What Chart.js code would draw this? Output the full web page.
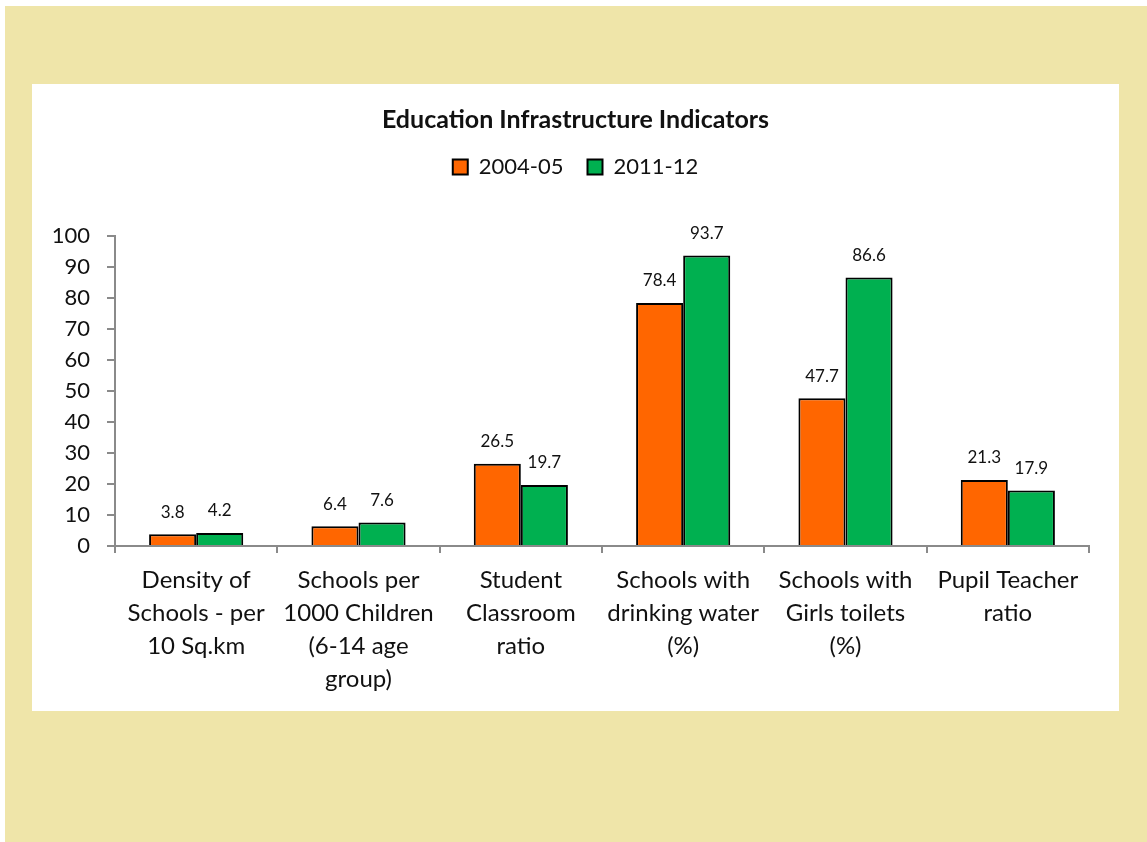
<!DOCTYPE html>
<html>
<head>
<meta charset="utf-8">
<title>Education Infrastructure Indicators</title>
<script src="https://cdn.jsdelivr.net/npm/chart.js@4.4.1/dist/chart.umd.min.js"></script>
<style>
  html, body { margin: 0; padding: 0; background: #fff; width: 1147px; height: 842px; overflow: hidden; }
  #frame { position: absolute; left: 5px; top: 6px; right: 0; bottom: 0; background: #EFE5A9; }
  #panel { position: absolute; left: 32px; top: 84px; width: 1087px; height: 627px; background: #fff; }
  #chart { display: block; }
</style>
</head>
<body>
<div id="frame"></div>
<div id="panel"><canvas id="chart" width="1087" height="627"></canvas></div>
<script>
// education indicators, two survey years
const categories = [
  ["Density of", "Schools - per", "10 Sq.km"],
  ["Schools per", "1000 Children", "(6-14 age", "group)"],
  ["Student", "Classroom", "ratio"],
  ["Schools with", "drinking water", "(%)"],
  ["Schools with", "Girls toilets", "(%)"],
  ["Pupil Teacher", "ratio"]
];
const seriesNames = ["2004-05", "2011-12"];
const values2004 = [3.8, 6.4, 26.5, 78.4, 47.7, 21.3];
const values2011 = [4.2, 7.6, 19.7, 93.7, 86.6, 17.9];
const yTicks = [0, 10, 20, 30, 40, 50, 60, 70, 80, 90, 100];

const FONT = "Lato, 'Open Sans', sans-serif";
const AXIS_GREY = "#8a8a8a";
const TEXT = "#111";

// value labels sitting above each bar
const barValueLabels = {
  id: "barValueLabels",
  afterDatasetsDraw(chart){
    const ctx = chart.ctx;
    ctx.save();
    ctx.font = "17px " + FONT;
    ctx.fillStyle = TEXT;
    ctx.textAlign = "center";
    ctx.textBaseline = "middle";
    chart.data.datasets.forEach((ds, di) => {
      chart.getDatasetMeta(di).data.forEach((bar, i) => {
        ctx.fillText(ds.data[i].toFixed(1), bar.x, bar.y - 22);
      });
    });
    ctx.restore();
  }
};

new Chart(document.getElementById("chart").getContext("2d"), {
  type: "bar",
  data: {
    labels: categories,
    datasets: [
      { label: seriesNames[0], data: values2004, backgroundColor: "#FF6600", borderColor: "#000", borderWidth: 2 },
      { label: seriesNames[1], data: values2011, backgroundColor: "#00B050", borderColor: "#000", borderWidth: 2 }
    ]
  },
  options: {
    responsive: false,
    animation: false,
    layout: { padding: 0 },
    datasets: { bar: { barPercentage: 1, categoryPercentage: 0.58 } },
    plugins: {
      title: {
        display: true,
        text: "Education Infrastructure Indicators",
        color: TEXT,
        font: { family: FONT, size: 25, weight: "bold", lineHeight: 1 },
        padding: { top: 23, bottom: 0 }
      },
      legend: {
        display: true,
        labels: {
          color: TEXT,
          font: { family: FONT, size: 22 },
          boxWidth: 15,
          boxHeight: 15,
          padding: 24
        }
      },
      // empty block that keeps a gap between the legend and the plot
      subtitle: {
        display: true,
        text: "",
        weight: 500,
        padding: 0,
        font: { size: 48, lineHeight: 1 }
      },
      tooltip: { enabled: false }
    },
    scales: {
      x: {
        grid: { display: true, drawOnChartArea: false, drawTicks: true, tickLength: 7, color: AXIS_GREY, lineWidth: 2 },
        border: { display: true, color: AXIS_GREY, width: 2 },
        ticks: {
          color: TEXT,
          font: { family: FONT, size: 24, lineHeight: 1.375 },
          padding: 11,
          autoSkip: false,
          maxRotation: 0,
          minRotation: 0
        },
        afterFit(scale){ scale.height = 165; }
      },
      y: {
        min: 0,
        max: 100,
        afterBuildTicks(scale){ scale.ticks = yTicks.map(v => ({ value: v })); },
        grid: { display: true, drawOnChartArea: false, drawTicks: true, tickLength: 8, color: AXIS_GREY, lineWidth: 2 },
        border: { display: true, color: AXIS_GREY, width: 2 },
        ticks: {
          color: TEXT,
          font: { family: FONT, size: 22 },
          padding: 17
        },
        afterFit(scale){ scale.width = 83; }
      },
      // blank right-hand margin so the title and legend stay centred on the panel
      yRight: {
        position: "right",
        display: true,
        grid: { display: false },
        border: { display: false },
        ticks: { display: false },
        afterFit(scale){ scale.width = 30; }
      }
    }
  },
  plugins: [barValueLabels]
});
</script>
</body>
</html>
